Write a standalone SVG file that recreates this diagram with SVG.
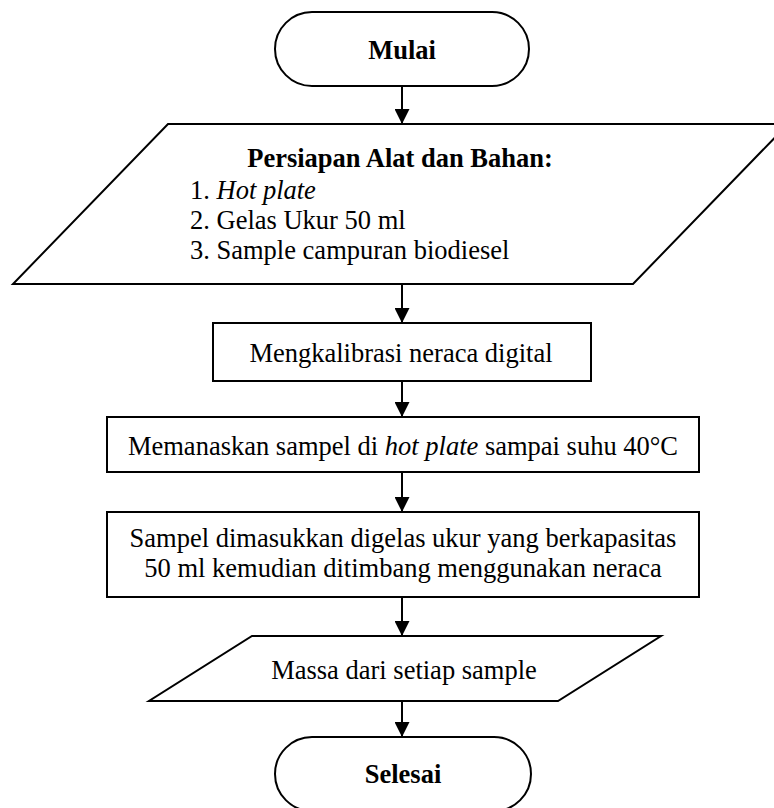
<svg xmlns="http://www.w3.org/2000/svg" width="774" height="808" viewBox="0 0 774 808">
  <style>
    .shape { fill: #ffffff; stroke: #000000; stroke-width: 2; }
    .t { font-family: "Liberation Serif", "Times New Roman", serif; font-size: 26.5px; fill: #000000; }
    .c { text-anchor: middle; }
    .b { font-weight: bold; }
    .i { font-style: italic; }
    .conn { stroke: #000000; stroke-width: 2; fill: none; marker-end: url(#arrow); }
  </style>
  <defs>
    <marker id="arrow" markerWidth="16" markerHeight="15" refX="15" refY="7.5" orient="auto" markerUnits="userSpaceOnUse">
      <path d="M0,0 L15,7.5 L0,15 Z" fill="#000000"/>
    </marker>
  </defs>
  <rect width="774" height="808" fill="#ffffff"/>

  <g id="connectors">
    <line class="conn" x1="402" y1="86" x2="402" y2="124"/>
    <line class="conn" x1="402" y1="284" x2="402" y2="323"/>
    <line class="conn" x1="402" y1="381" x2="402" y2="417"/>
    <line class="conn" x1="402" y1="472" x2="402" y2="512"/>
    <line class="conn" x1="402" y1="597" x2="402" y2="636"/>
    <line class="conn" x1="402" y1="701" x2="402" y2="737"/>
  </g>

  <g id="start">
    <rect class="shape" x="275" y="12" width="254" height="74" rx="37" ry="37"/>
    <text class="t c b" x="402" y="59">Mulai</text>
  </g>

  <g id="prepare">
    <polygon class="shape" points="168,124 788,124 633,284 13,284"/>
    <text class="t c b" x="400" y="167">Persiapan Alat dan Bahan:</text>
    <text class="t" x="190" y="199">1. <tspan class="i">Hot plate</tspan></text>
    <text class="t" x="190" y="229">2. Gelas Ukur 50 ml</text>
    <text class="t" x="190" y="259">3. Sample campuran biodiesel</text>
  </g>

  <g id="calibrate">
    <rect class="shape" x="213" y="323" width="378" height="58"/>
    <text class="t c" x="401" y="362">Mengkalibrasi neraca digital</text>
  </g>

  <g id="heat">
    <rect class="shape" x="107" y="417" width="592" height="55"/>
    <text class="t c" x="403" y="455">Memanaskan sampel di <tspan class="i">hot plate</tspan> sampai suhu 40°C</text>
  </g>

  <g id="weigh">
    <rect class="shape" x="107" y="512" width="592" height="85"/>
    <text class="t c" x="403" y="547">Sampel dimasukkan digelas ukur yang berkapasitas</text>
    <text class="t c" x="403" y="577">50 ml kemudian ditimbang menggunakan neraca</text>
  </g>

  <g id="output">
    <polygon class="shape" points="252,636 661,636 558,701 149,701"/>
    <text class="t c" x="404" y="679">Massa dari setiap sample</text>
  </g>

  <g id="end">
    <rect class="shape" x="275" y="737" width="256" height="74" rx="37" ry="37"/>
    <text class="t c b" x="403" y="783">Selesai</text>
  </g>
</svg>
